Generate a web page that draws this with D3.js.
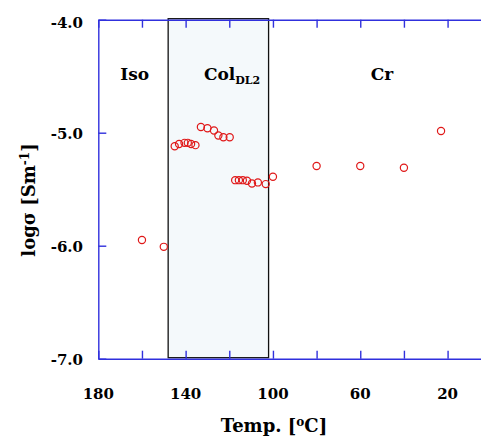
<!DOCTYPE html>
<html>
<head>
<meta charset="utf-8">
<script src="https://cdn.jsdelivr.net/npm/d3@7"></script>
<style>
  body { margin: 0; background: #fff; }
  text { font-family: "DejaVu Serif", serif; font-weight: bold; fill: #000; }
</style>
</head>
<body>
<div id="my_dataviz"></div>
<script>
// data
const temps = [160, 150, 145, 143, 140.5, 139, 137.5, 135.5,
               133, 130, 127, 125, 122.7, 119.8,
               117.3, 115.6, 113.8, 111.9, 109.6, 106.9, 103.3, 100,
               80, 60, 40, 23];
const logSigma = [-5.95, -6.01, -5.12, -5.10, -5.09, -5.09, -5.10, -5.11,
                  -4.95, -4.96, -4.98, -5.025, -5.04, -5.04,
                  -5.42, -5.42, -5.42, -5.425, -5.45, -5.44, -5.455, -5.39,
                  -5.295, -5.295, -5.31, -4.985];
const phaseBounds = [148, 102];          // Col_DL2 range, degC
const xTicks = [180, 160, 140, 120, 100, 80, 60, 40, 20, 0];
const xLabels = [180, 140, 100, 60, 20];
const yTicks = [-7, -6, -5, -4];

const margin = {top: 19.7, left: 98.3},
    width = 481, height = 438;

const svg = d3.select("#my_dataviz")
  .append("svg")
    .attr("width", width)
    .attr("height", height);

const x = d3.scaleLinear()
  .domain([180, 0])
  .range([margin.left, margin.left + 180 * 2.183]);
const y = d3.scaleLinear()
  .domain([-7, -4])
  .range([358.7, margin.top]);

const axisColor = "#3030dd";

// Col_DL2 shaded band
svg.append("rect")
  .attr("x", x(phaseBounds[0]))
  .attr("y", y(-4) - 1)
  .attr("width", x(phaseBounds[1]) - x(phaseBounds[0]))
  .attr("height", y(-7) - y(-4))
  .attr("fill", "#f4f9fb")
  .attr("stroke", "#111")
  .attr("stroke-width", 1.3);

// bottom axis (ticks point inward)
const xAxisB = svg.append("g")
  .attr("transform", `translate(0, ${y(-7)})`)
  .call(d3.axisBottom(x).tickValues(xTicks).tickSizeInner(-8).tickSizeOuter(0).tickFormat(""));
// top axis
const xAxisT = svg.append("g")
  .attr("transform", `translate(0, ${y(-4)})`)
  .call(d3.axisTop(x).tickValues(xTicks).tickSizeInner(-8).tickSizeOuter(0).tickFormat(""));
// left axis
const yAxis = svg.append("g")
  .attr("transform", `translate(${margin.left}, 0)`)
  .call(d3.axisLeft(y).tickValues(yTicks).tickSizeInner(-8).tickSizeOuter(0).tickFormat(""));

[xAxisB, xAxisT, yAxis].forEach(g => {
  g.selectAll("path, line").attr("stroke", axisColor).attr("stroke-width", 1.4);
});

// tick labels
svg.selectAll(".xlab")
  .data(xLabels)
  .join("text")
    .attr("class", "xlab")
    .attr("x", d => x(d))
    .attr("y", 399)
    .attr("text-anchor", "middle")
    .style("font-size", "15px")
    .text(d => d);

svg.selectAll(".ylab")
  .data(yTicks)
  .join("text")
    .attr("class", "ylab")
    .attr("x", 83)
    .attr("y", d => y(d) + 6 + (d === -4 ? 2 : 0))
    .attr("text-anchor", "end")
    .style("font-size", "15px")
    .text(d => d.toFixed(1));

// data points
svg.selectAll("circle")
  .data(temps)
  .join("circle")
    .attr("cx", d => x(d))
    .attr("cy", (d, i) => y(logSigma[i]))
    .attr("r", 3.6)
    .attr("fill", "none")
    .attr("stroke", "#e01818")
    .attr("stroke-width", 1.2);

// phase labels
svg.append("text")
  .attr("x", x(163.3)).attr("y", 80)
  .attr("text-anchor", "middle")
  .style("font-size", "17px")
  .text("Iso");

const col = svg.append("text")
  .attr("x", 204).attr("y", 80)
  .style("font-size", "17px");
col.append("tspan").text("Col");
col.append("tspan").attr("dy", 4).style("font-size", "11px").text("DL2");

svg.append("text")
  .attr("x", x(50)).attr("y", 80)
  .attr("text-anchor", "middle")
  .style("font-size", "17px")
  .text("Cr");

// axis titles
const xt = svg.append("text")
  .attr("x", 274).attr("y", 432)
  .attr("text-anchor", "middle")
  .style("font-size", "18px");
xt.append("tspan").text("Temp. [");
xt.append("tspan").attr("dy", -6).style("font-size", "12px").text("o");
xt.append("tspan").attr("dy", 6).text("C]");

const yt = svg.append("text")
  .attr("transform", "translate(35, 200) rotate(-90)")
  .attr("text-anchor", "middle")
  .style("font-size", "18px");
yt.append("tspan").text("logσ  [Sm");
yt.append("tspan").attr("dy", -6).style("font-size", "12px").text("-1");
yt.append("tspan").attr("dy", 6).text("]");
</script>
</body>
</html>
